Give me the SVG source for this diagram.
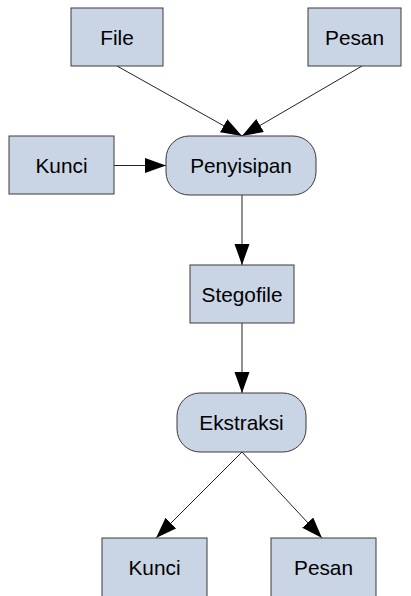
<svg xmlns="http://www.w3.org/2000/svg" width="411" height="596" viewBox="0 0 411 596">
  <style>
    .box { fill: #c9d5e5; stroke: #3a3a3a; stroke-width: 1; }
    .lbl { font-family: "Liberation Sans", Arial, sans-serif; font-size: 20.8px; fill: #000; text-anchor: middle; }
    .edge { fill: none; stroke: #222; stroke-width: 1; marker-end: url(#arrow); }
  </style>
  <defs>
    <marker id="arrow" markerUnits="userSpaceOnUse" markerWidth="22" markerHeight="16" refX="21" refY="7.5" orient="auto">
      <path d="M0,0 L21,7.5 L0,15 z" fill="#000"/>
    </marker>
  </defs>

  <g id="connectors">
    <line class="edge" x1="117" y1="66" x2="242" y2="136"/>
    <line class="edge" x1="362" y1="66" x2="242" y2="136"/>
    <line class="edge" x1="114" y1="165.5" x2="166" y2="165.5"/>
    <line class="edge" x1="242" y1="195" x2="242" y2="265"/>
    <line class="edge" x1="242" y1="323" x2="242" y2="393"/>
    <line class="edge" x1="242" y1="452" x2="156" y2="538"/>
    <line class="edge" x1="242" y1="452" x2="322" y2="538"/>
  </g>

  <g id="file">
    <rect class="box" x="71" y="8" width="92" height="58"/>
    <text class="lbl" x="117" y="44.5">File</text>
  </g>
  <g id="pesan-in">
    <rect class="box" x="308" y="8" width="93" height="58"/>
    <text class="lbl" x="354.5" y="44.5">Pesan</text>
  </g>
  <g id="kunci-in">
    <rect class="box" x="9" y="136" width="105" height="58"/>
    <text class="lbl" x="61.5" y="172.5">Kunci</text>
  </g>
  <g id="penyisipan">
    <rect class="box" x="166" y="136" width="150" height="59" rx="23" ry="23"/>
    <text class="lbl" x="241" y="173">Penyisipan</text>
  </g>
  <g id="stegofile">
    <rect class="box" x="190" y="265" width="104" height="58"/>
    <text class="lbl" x="242" y="301.5">Stegofile</text>
  </g>
  <g id="ekstraksi">
    <rect class="box" x="177" y="393" width="129" height="59" rx="23" ry="23"/>
    <text class="lbl" x="241.5" y="430">Ekstraksi</text>
  </g>
  <g id="kunci-out">
    <rect class="box" x="102" y="538" width="105" height="64"/>
    <text class="lbl" x="154.5" y="574.5">Kunci</text>
  </g>
  <g id="pesan-out">
    <rect class="box" x="271" y="538" width="105" height="64"/>
    <text class="lbl" x="323.5" y="574.5">Pesan</text>
  </g>
</svg>
